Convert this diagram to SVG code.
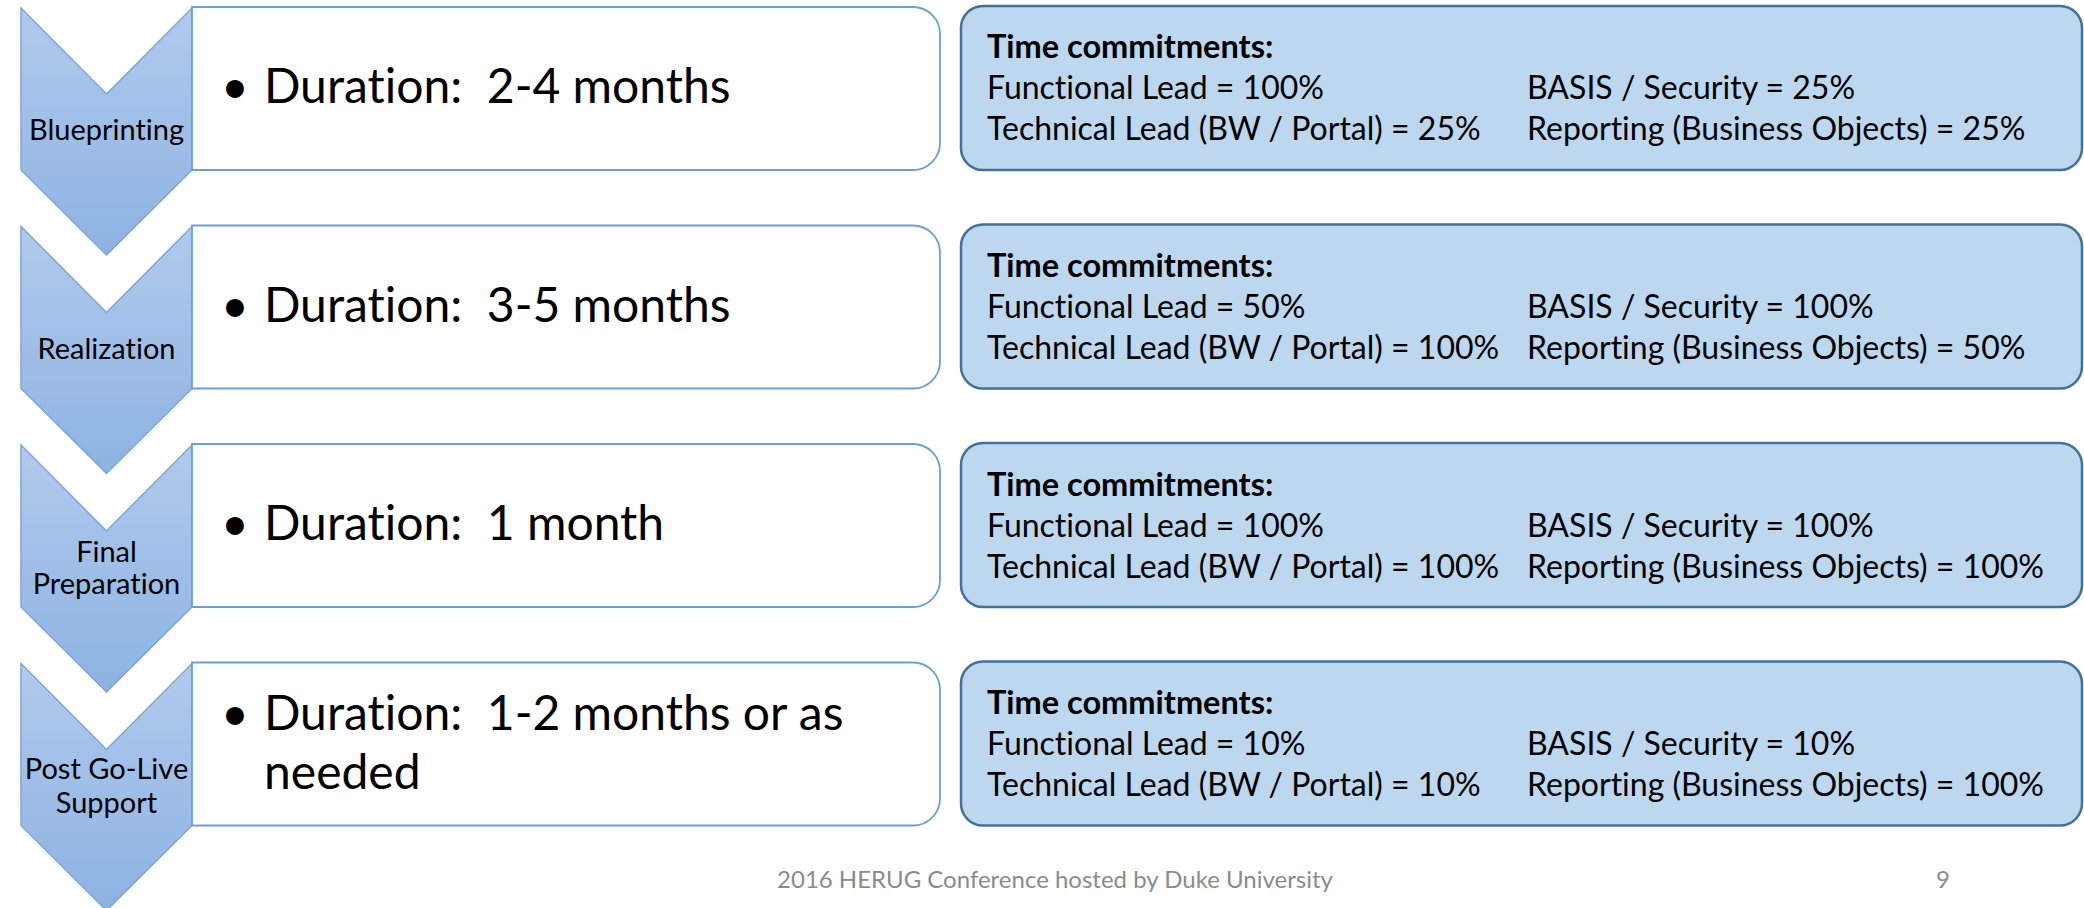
<svg xmlns="http://www.w3.org/2000/svg" width="2084" height="908" viewBox="0 0 2084 908">
<defs>
<linearGradient id="chev" x1="0" y1="0" x2="0" y2="1">
<stop offset="0" stop-color="#B0CAEC"/>
<stop offset="1" stop-color="#8DB3E2"/>
</linearGradient>
<style>
text{font-family:Lato,"Noto Sans",sans-serif;fill:#000;font-variant-ligatures:none;font-feature-settings:"liga" 0,"clig" 0;white-space:pre}
.chev{fill:url(#chev);stroke:#7EA6DA;stroke-width:1.5}
.wbox{fill:#FFFFFF;stroke:#6A9FD8;stroke-width:1.8}
.bbox{fill:#BDD7EE;stroke:#41719C;stroke-width:2.5}
.lbl{font-size:29px;text-anchor:middle}
.dur{font-size:48px}
.tc{font-size:32px}
.tch{font-size:32.5px;font-weight:bold}
.foot{font-size:24px;fill:#8B8B8B}
</style>
</defs>
<g id="connectors"></g>

<g id="row1">
<path class="chev" d="M21,8 L106.5,94 L192,8 L192,170 L106.5,255 L21,170 Z"/>
<text class="lbl" x="106.5" y="140">Blueprinting</text>
<path class="wbox" d="M192,7 L913,7 A27,27 0 0 1 940,34 L940,143 A27,27 0 0 1 913,170 L192,170 Z"/>
<text class="dur" x="221" y="103">•</text>
<text class="dur" x="264" y="103" xml:space="preserve">Duration:  2-4 months</text>
<rect class="bbox" x="961" y="6" width="1121" height="164" rx="22" ry="22"/>
<text class="tch" x="987" y="58">Time commitments:</text>
<text class="tc" x="987" y="99">Functional Lead = 100%</text>
<text class="tc" x="1527" y="99">BASIS / Security = 25%</text>
<text class="tc" x="987" y="140">Technical Lead (BW / Portal) = 25%</text>
<text class="tc" x="1527" y="140">Reporting (Business Objects) = 25%</text>
</g>

<g id="row2">
<path class="chev" d="M21,226.5 L106.5,312.5 L192,226.5 L192,388.5 L106.5,473.5 L21,388.5 Z"/>
<text class="lbl" x="106.5" y="359">Realization</text>
<path class="wbox" d="M192,225.5 L913,225.5 A27,27 0 0 1 940,252.5 L940,361.5 A27,27 0 0 1 913,388.5 L192,388.5 Z"/>
<text class="dur" x="221" y="321.5">•</text>
<text class="dur" x="264" y="321.5" xml:space="preserve">Duration:  3-5 months</text>
<rect class="bbox" x="961" y="224.5" width="1121" height="164" rx="22" ry="22"/>
<text class="tch" x="987" y="277">Time commitments:</text>
<text class="tc" x="987" y="318">Functional Lead = 50%</text>
<text class="tc" x="1527" y="318">BASIS / Security = 100%</text>
<text class="tc" x="987" y="359">Technical Lead (BW / Portal) = 100%</text>
<text class="tc" x="1527" y="359">Reporting (Business Objects) = 50%</text>
</g>

<g id="row3">
<path class="chev" d="M21,445 L106.5,531 L192,445 L192,607 L106.5,692 L21,607 Z"/>
<text class="lbl" x="106.5" y="562">Final</text>
<text class="lbl" x="106.5" y="594">Preparation</text>
<path class="wbox" d="M192,444 L913,444 A27,27 0 0 1 940,471 L940,580 A27,27 0 0 1 913,607 L192,607 Z"/>
<text class="dur" x="221" y="540">•</text>
<text class="dur" x="264" y="540" xml:space="preserve">Duration:  1 month</text>
<rect class="bbox" x="961" y="443" width="1121" height="164" rx="22" ry="22"/>
<text class="tch" x="987" y="496">Time commitments:</text>
<text class="tc" x="987" y="537">Functional Lead = 100%</text>
<text class="tc" x="1527" y="537">BASIS / Security = 100%</text>
<text class="tc" x="987" y="578">Technical Lead (BW / Portal) = 100%</text>
<text class="tc" x="1527" y="578">Reporting (Business Objects) = 100%</text>
</g>

<g id="row4">
<path class="chev" d="M21,663.5 L106.5,749.5 L192,663.5 L192,825.5 L106.5,910.5 L21,825.5 Z"/>
<text class="lbl" x="106.5" y="779">Post Go-Live</text>
<text class="lbl" x="106.5" y="813">Support</text>
<path class="wbox" d="M192,662.5 L913,662.5 A27,27 0 0 1 940,689.5 L940,798.5 A27,27 0 0 1 913,825.5 L192,825.5 Z"/>
<text class="dur" x="221" y="730">•</text>
<text class="dur" x="264" y="730" xml:space="preserve">Duration:  1-2 months or as</text>
<text class="dur" x="264" y="789">needed</text>
<rect class="bbox" x="961" y="661.5" width="1121" height="164" rx="22" ry="22"/>
<text class="tch" x="987" y="714">Time commitments:</text>
<text class="tc" x="987" y="755">Functional Lead = 10%</text>
<text class="tc" x="1527" y="755">BASIS / Security = 10%</text>
<text class="tc" x="987" y="796">Technical Lead (BW / Portal) = 10%</text>
<text class="tc" x="1527" y="796">Reporting (Business Objects) = 100%</text>
</g>

<g id="footer">
<text class="foot" x="1055" y="888" text-anchor="middle">2016 HERUG Conference hosted by Duke University</text>
<text class="foot" x="1936" y="888">9</text>
</g>
</svg>
